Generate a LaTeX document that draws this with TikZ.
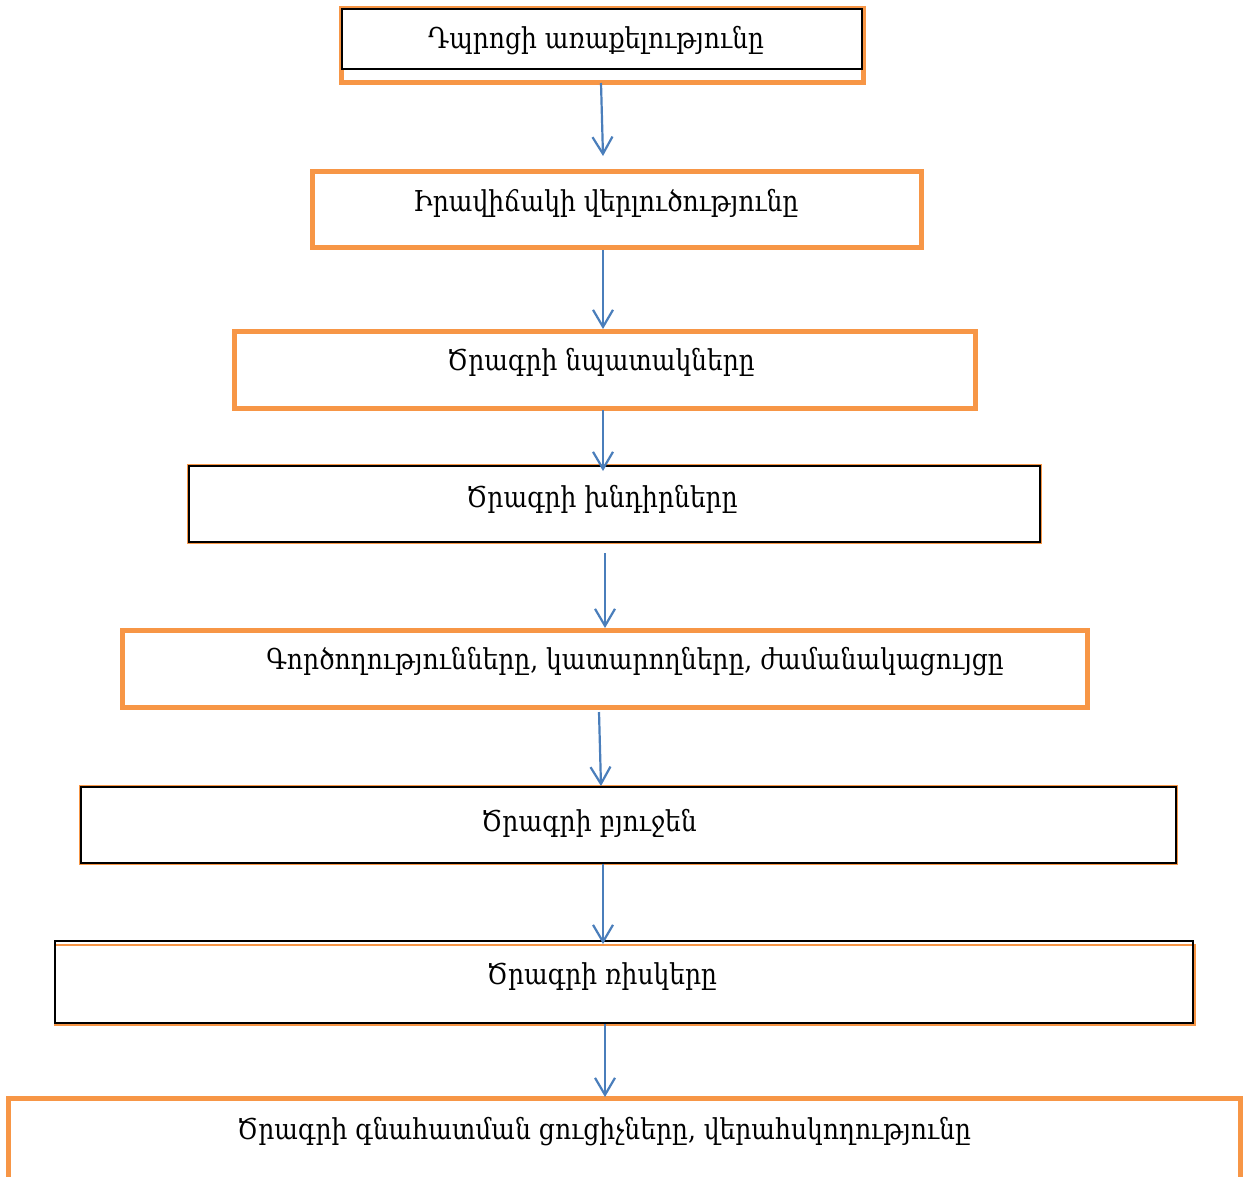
\documentclass[tikz,border=0pt]{standalone}
\usepackage{fontspec}
\setmainfont{DejaVu Serif}
\usetikzlibrary{arrows.meta}
\definecolor{boxorange}{HTML}{F79646}
\definecolor{arrowblue}{HTML}{4A7EBB}
\newcommand{\armtxt}[1]{\scalebox{1}[1.15]{#1}}
\begin{document}
\begin{tikzpicture}[x=1pt,y=-1pt,
  obox/.style={draw=boxorange,line width=5pt,minimum width=#1,inner sep=0pt,outer sep=0pt},
  tbox/.style={draw=boxorange,line width=2.5pt,inner sep=0pt,outer sep=0pt},
  kbox/.style={draw=black,line width=1.6pt,inner sep=0pt,outer sep=0pt},
  lbl/.style={font=\fontsize{25}{29}\selectfont,inner sep=0pt},
  arr/.style={draw=arrowblue,line width=2.2pt,-{Straight Barb[length=17pt,width=20pt,line width=2.2pt]}}]
\useasboundingbox (0,0) rectangle (1246,1176);
\fill[white] (0,0) rectangle (1246,1176);
% box 1
\node[obox=522pt,minimum height=74pt] (b1) at (602,45) {};
\node[kbox,fill=white,minimum width=520pt,minimum height=60pt] (k1) at (602,39) {};
\node[lbl] (t1) at (596,41) {\armtxt{Դպրոցի առաքելությունը}};
% box 2
\node[obox=609pt,minimum height=76pt] (b2) at (616.5,209) {};
\node[lbl] (t2) at (606,203) {\armtxt{Իրավիճակի վերլուծությունը}};
% box 3
\node[obox=741pt,minimum height=77pt] (b3) at (604.5,369.5) {};
\node[lbl] (t3) at (601,362) {\armtxt{Ծրագրի նպատակները}};
% box 4
\node[tbox,minimum width=853pt,minimum height=78pt] (b4) at (614.5,504) {};
\node[kbox,minimum width=851pt,minimum height=76pt] (k4) at (614.5,504) {};
\node[lbl] (t4) at (602,499) {\armtxt{Ծրագրի խնդիրները}};
% box 5
\node[obox=965pt,minimum height=77pt] (b5) at (604.5,668.5) {};
\node[lbl] (t5) at (635,662) {\armtxt{Գործողությունները, կատարողները, ժամանակացույցը}};
% box 6
\node[tbox,minimum width=1097pt,minimum height=78pt] (b6) at (628.5,825) {};
\node[kbox,minimum width=1095pt,minimum height=76pt] (k6) at (628.5,825) {};
\node[lbl] (t6) at (589,823) {\armtxt{Ծրագրի բյուջեն}};
% box 7
\draw[boxorange,line width=2.5pt] (55,945) rectangle (1195,1025);
\node[kbox,minimum width=1138pt,minimum height=82pt] (k7) at (624,982) {};
\node[lbl] (t7) at (602,977) {\armtxt{Ծրագրի ռիսկերը}};
% box 8
\node[obox=1232pt,minimum height=100pt] (b8) at (624,1148) {};
\node[lbl] (t8) at (604,1132) {\armtxt{Ծրագրի գնահատման ցուցիչները, վերահսկողությունը}};
% arrows
\coordinate (a1) at (603,156);
\coordinate (a3) at (603,471);
\coordinate (a6) at (603,944);
\draw[arr] ([xshift=-1pt,yshift=-1pt]b1.south) -- (a1);
\draw[arr] ([xshift=-13.5pt,yshift=-3pt]b2.south) -- ([xshift=-1.5pt,yshift=2pt]b3.north);
\draw[arr] ([xshift=-1.5pt,yshift=-2pt]b3.south) -- (a3);
\draw[arr] ([xshift=-9.5pt,yshift=-10pt]b4.south) -- ([xshift=0.5pt,yshift=2pt]b5.north);
\draw[arr] ([xshift=-5.5pt,yshift=-5pt]b5.south) -- ([xshift=-27.5pt,yshift=0pt]b6.north);
\draw[arr] ([xshift=-25.5pt]b6.south) -- (a6);
\draw[arr] ([xshift=-19pt,yshift=-1pt]k7.south) -- ([xshift=-19pt,yshift=1pt]b8.north);
\end{tikzpicture}
\end{document}
